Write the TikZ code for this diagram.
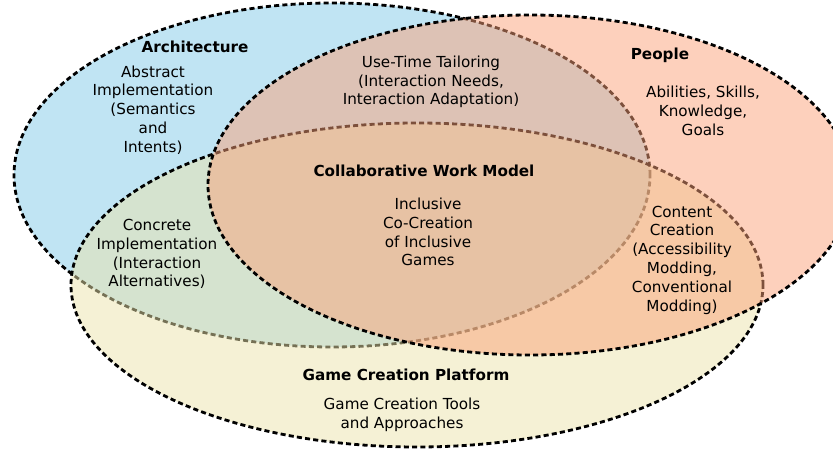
\documentclass[tikz,border=0pt]{standalone}
\usepackage{fontspec}
\setmainfont{DejaVu Sans}
\definecolor{archc}{RGB}{129,201,231}
\definecolor{peoplec}{RGB}{251,161,121}
\definecolor{gamec}{RGB}{235,227,171}
\begin{document}
\begin{tikzpicture}[x=0.75pt,y=-0.75pt,
  setbox/.style={draw=black,line width=2.1pt,dash pattern=on 3.8pt off 2.4pt,fill opacity=0.5},
  lbl/.style={align=center,inner sep=0pt,font=\fontsize{11.4}{14.1}\selectfont},
  ttl/.style={lbl,font=\fontsize{11.4}{14.1}\selectfont\bfseries}]
\useasboundingbox (0,0) rectangle (833,452);
\draw[setbox,fill=archc] (332,175) ellipse [x radius=238.5pt, y radius=129pt];
\draw[setbox,fill=gamec] (417,285) ellipse [x radius=259.5pt, y radius=121.5pt];
\draw[setbox,fill=peoplec] (530,185) ellipse [x radius=241.5pt, y radius=127.5pt];
\node[ttl] (arch) at (195,47) {Architecture};
\node[lbl] (abs) at (153,110) {Abstract\\Implementation\\(Semantics\\and\\Intents)};
\node[lbl] (use) at (431,82) {Use-Time Tailoring\\(Interaction Needs,\\Interaction Adaptation)};
\node[ttl] (people) at (660,55) {People};
\node[lbl] (abil) at (703,111) {Abilities, Skills,\\Knowledge,\\Goals};
\node[ttl] (cwm) at (424,171) {Collaborative Work Model};
\node[lbl] (incl) at (428,232) {Inclusive\\Co-Creation\\of Inclusive\\Games};
\node[lbl] (conc) at (157,254) {Concrete\\Implementation\\(Interaction\\Alternatives)};
\node[lbl] (cont) at (682,260) {Content\\Creation\\(Accessibility\\Modding,\\Conventional\\Modding)};
\node[ttl] (gcp) at (406,375) {Game Creation Platform};
\node[lbl] (gct) at (402,415) {Game Creation Tools\\and Approaches};
\end{tikzpicture}
\end{document}
